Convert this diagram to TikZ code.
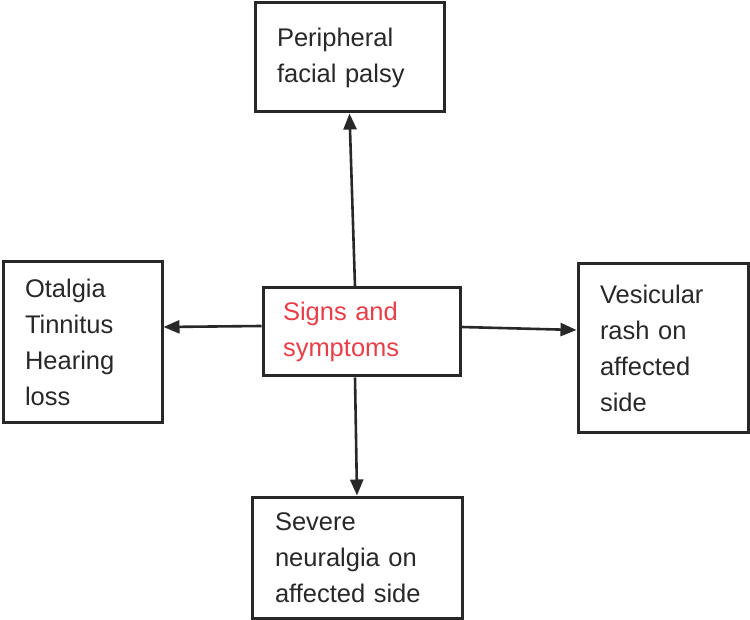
\documentclass[tikz,border=0pt]{standalone}
\usepackage{fontspec}
\setmainfont{Liberation Sans}
\usepackage{tikz}
\usetikzlibrary{arrows.meta}
\definecolor{ink}{RGB}{40,40,40}
\definecolor{signred}{RGB}{232,62,72}

\begin{document}
\begin{tikzpicture}[x=1pt,y=-1pt,
	box/.style={draw=ink,line width=3pt,rectangle,inner xsep=22pt,inner ysep=0pt,align=left,text=ink,font=\fontsize{25.5}{36}\selectfont},
	arr/.style={draw=ink,line width=2.6pt,-{Triangle[length=16pt,width=13pt]}}]
	\useasboundingbox (0,0) rectangle (750,620);
	
	\node[box,minimum width=189pt,minimum height=109pt,text width=145pt] at (349.5,57.5) (palsy) {Peripheral\\facial palsy};
	\node[box,minimum width=159pt,minimum height=160pt,text width=115pt] at (82.5,342) (otalgia) {Otalgia\\Tinnitus\\Hearing\\loss};
	\node[box,minimum width=197pt,minimum height=88pt,text width=157pt,inner xsep=20pt,text=signred] at (361.5,332) (signs) {Signs and\\symptoms};
	\node[box,minimum width=170pt,minimum height=168pt,text width=126pt] at (663,348) (rash) {Vesicular\\rash on\\affected\\side};
	\node[box,minimum width=210pt,minimum height=121pt,text width=164pt] at (357,557.5) (neuralgia) {Severe\\neuralgia on\\affected side};
	
	\draw[arr] ([xshift=-6.5pt]signs.north) -- (palsy.south);
	\draw[arr] ([yshift=6pt]signs.west) -- ([yshift=15pt]otalgia.east);
	\draw[arr] ([yshift=5pt]signs.east) -- ([yshift=18pt]rash.west);
	\draw[arr] ([xshift=-6.5pt]signs.south) -- (neuralgia.north);
\end{tikzpicture}
\end{document}
